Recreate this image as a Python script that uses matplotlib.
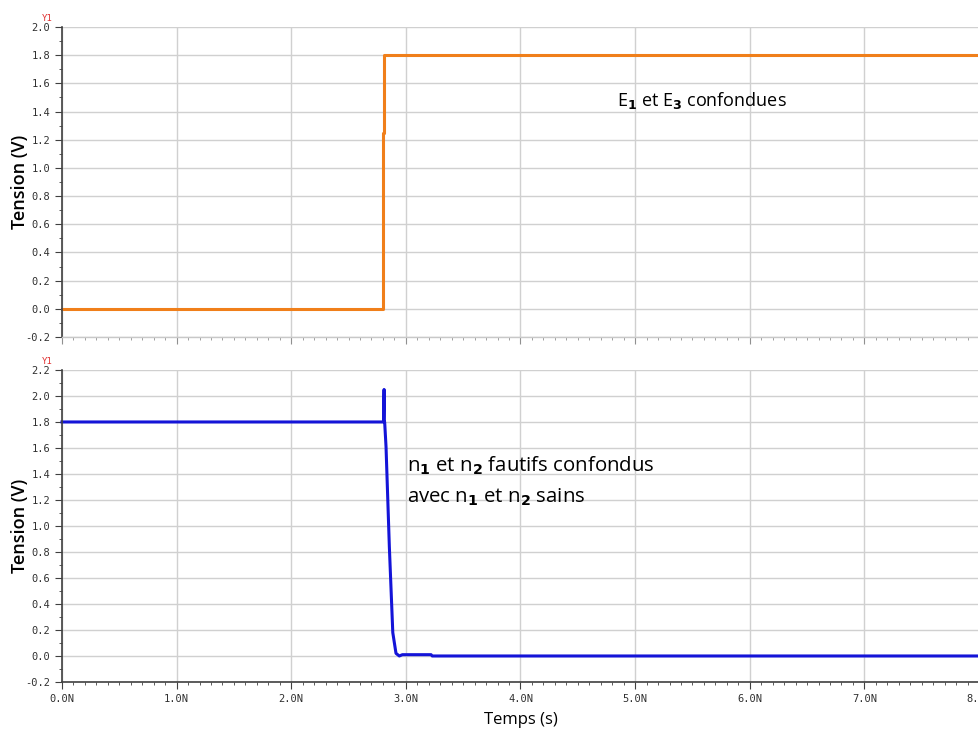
import matplotlib.pyplot as plt
from matplotlib.ticker import MultipleLocator, FuncFormatter
import numpy as np

# tensions E1/E3 (haut) et n1/n2 (bas)
t_e = [0.0, 2.80, 2.80, 2.805, 2.805, 8.0]
v_e = [0.0, 0.0, 1.25, 1.25, 1.80, 1.80]

t_n = [0.0, 2.80, 2.805, 2.81, 2.812, 2.815, 2.827, 2.856, 2.886, 2.914, 2.943, 2.97, 3.22, 3.23, 8.0]
v_n = [1.80, 1.80, 1.80, 2.05, 1.80, 1.80, 1.61, 0.84, 0.18, 0.02, 0.0, 0.01, 0.01, 0.0, 0.0]

plt.rcParams['font.family'] = ['Open Sans', 'DejaVu Sans']
plt.rcParams['mathtext.fontset'] = 'custom'
plt.rcParams['mathtext.rm'] = 'Open Sans'

fig = plt.figure(figsize=(9.79, 7.29), dpi=100)
ax1 = fig.add_axes([0.0633, 0.5377, 0.9367, 0.4253])
ax2 = fig.add_axes([0.0633, 0.0645, 0.9367, 0.428])


def style(ax, ymin, ymax, labels):
    ax.set_xlim(0, 8)
    ax.set_ylim(ymin, ymax)
    ax.xaxis.set_major_locator(MultipleLocator(1))
    ax.xaxis.set_minor_locator(MultipleLocator(0.1))
    ax.yaxis.set_major_locator(MultipleLocator(0.2))
    ax.yaxis.set_minor_locator(MultipleLocator(0.1))
    ax.grid(True, which='major', color='#d0d0d0', lw=1)
    ax.set_axisbelow(True)
    for s in ['top', 'right']:
        ax.spines[s].set_visible(False)
    for s in ['left', 'bottom']:
        ax.spines[s].set_color('#404040')
        ax.spines[s].set_linewidth(1.2)
    ax.tick_params(which='major', length=5, color='#404040', direction='out')
    ax.tick_params(which='minor', length=2.5, color='#404040', direction='out')
    ax.yaxis.set_major_formatter(FuncFormatter(lambda v, p: f'{v:.1f}'))
    ax.xaxis.set_major_formatter(FuncFormatter(lambda v, p: f'{v:.1f}N'))
    for lab in ax.get_yticklabels() + ax.get_xticklabels():
        lab.set_fontfamily('DejaVu Sans Mono')
        lab.set_fontsize(7.5)
        lab.set_color('#303030')
    if not labels:
        # axe du bas du panneau haut : gris clair
        ax.tick_params(axis='x', labelbottom=False, which='both', color='#909090')
        ax.spines['bottom'].set_color('#c8c8c8')
        ax.spines['bottom'].set_linewidth(1)
    ax.set_ylabel('Tension (V)', fontsize=13, fontweight='semibold', va='center')
    ax.yaxis.set_label_coords(-0.046, 0.5)
    ax.text(-0.01, 1.012, 'Y1', transform=ax.transAxes, color='#e03030',
            fontsize=6.5, family='DejaVu Sans Mono', ha='right', va='bottom')


style(ax1, -0.2, 2.0, False)
style(ax2, -0.2, 2.2, True)

ax1.plot(t_e, v_e, color='#f07f1a', lw=2.2, clip_on=False)
ax2.plot(t_n, v_n, color='#1414d8', lw=2.2, clip_on=False)

ax1.text(4.84, 1.475, r'E$_\mathbf{1}$ et E$_\mathbf{3}$ confondues', fontsize=13,
         va='center', ha='left')
ax2.text(3.01, 1.46, r'n$_\mathbf{1}$ et n$_\mathbf{2}$ fautifs confondus', fontsize=14.7,
         va='center', ha='left')
ax2.text(3.01, 1.22, r'avec n$_\mathbf{1}$ et n$_\mathbf{2}$ sains', fontsize=14.7,
         va='center', ha='left')

ax2.set_xlabel('Temps (s)', fontsize=12, labelpad=6)

fig.savefig('out.png', dpi=100)
